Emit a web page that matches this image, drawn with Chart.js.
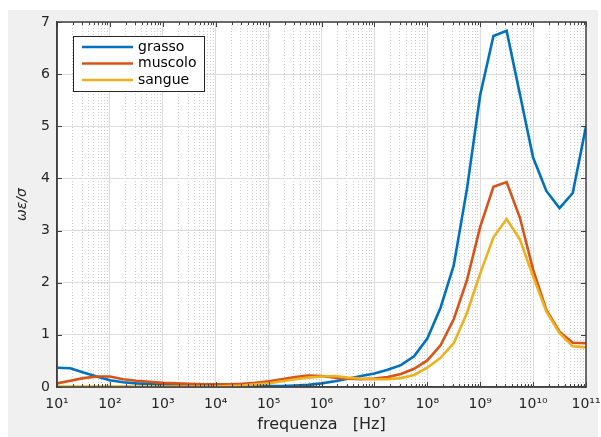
<!DOCTYPE html>
<html>
<head>
<meta charset="utf-8">
<script src="https://cdn.jsdelivr.net/npm/chart.js@4.4.1/dist/chart.umd.min.js"></script>
<style>
  html, body { margin: 0; padding: 0; background: #ffffff; }
</style>
</head>
<body>
<canvas id="chart" width="601" height="437"></canvas>
<script>
// frequencies [Hz], quarter-decade steps from 10 Hz to 100 GHz
const frequenze = [
  1e1, 1.78e1, 3.16e1, 5.62e1,
  1e2, 1.78e2, 3.16e2, 5.62e2,
  1e3, 1.78e3, 3.16e3, 5.62e3,
  1e4, 1.78e4, 3.16e4, 5.62e4,
  1e5, 1.78e5, 3.16e5, 5.62e5,
  1e6, 1.78e6, 3.16e6, 5.62e6,
  1e7, 1.78e7, 3.16e7, 5.62e7,
  1e8, 1.78e8, 3.16e8, 5.62e8,
  1e9, 1.78e9, 3.16e9, 5.62e9,
  1e10, 1.78e10, 3.16e10, 5.62e10,
  1e11
];

// omega*epsilon / sigma
const grasso = [
  0.37, 0.36, 0.28, 0.20,
  0.13, 0.09, 0.07, 0.06,
  0.05, 0.04, 0.04, 0.03,
  0.03, 0.03, 0.02, 0.02,
  0.02, 0.02, 0.03, 0.04,
  0.07, 0.11, 0.16, 0.21,
  0.26, 0.33, 0.42, 0.59,
  0.93, 1.52, 2.33, 3.80,
  5.60, 6.73, 6.83, 5.62,
  4.40, 3.76, 3.43, 3.72,
  5.00
];
const muscolo = [
  0.07, 0.12, 0.17, 0.20,
  0.20, 0.15, 0.12, 0.10,
  0.08, 0.07, 0.06, 0.05,
  0.05, 0.05, 0.06, 0.08,
  0.11, 0.15, 0.19, 0.22,
  0.21, 0.18, 0.16, 0.15,
  0.16, 0.19, 0.25, 0.35,
  0.51, 0.80, 1.30, 2.05,
  3.07, 3.84, 3.93, 3.25,
  2.25, 1.48, 1.06, 0.85,
  0.84
];
const sangue = [
  0.01, 0.01, 0.01, 0.01,
  0.01, 0.01, 0.01, 0.01,
  0.01, 0.01, 0.01, 0.01,
  0.01, 0.02, 0.03, 0.05,
  0.07, 0.11, 0.15, 0.18,
  0.20, 0.21, 0.18, 0.16,
  0.15, 0.15, 0.17, 0.23,
  0.37, 0.56, 0.84, 1.42,
  2.18, 2.87, 3.22, 2.83,
  2.12, 1.45, 1.03, 0.78,
  0.76
];

const seriesNames = ['grasso', 'muscolo', 'sangue'];
const seriesColors = ['#0072BD', '#D95319', '#EDB120'];
const yTicks = [0, 1, 2, 3, 4, 5, 6, 7];

const FONT = 'DejaVu Sans';
const SUP = ['⁰', '¹', '²', '³', '⁴', '⁵', '⁶', '⁷', '⁸', '⁹'];

function superscript(n) {
  return String(n).split('').map(d => SUP[+d]).join('');
}

function isDecade(v) {
  const e = Math.log10(v);
  return Math.abs(e - Math.round(e)) < 1e-9;
}

// tick positions for the log axis: 1..9 x 10^n
function logTicks(scale) {
  let list = [];
  for (let n = 1; n <= 10; n++) {
    for (let m = 1; m <= 9; m++) {
      list.push({value: m * Math.pow(10, n)});
    }
  }
  list.push({value: 1e11});
  scale.ticks = list;
}

function toPoints(ys) {
  return frequenze.map((f, i) => ({x: f, y: ys[i]}));
}

// grey figure + white axes background
const backgroundPlugin = {
  id: 'background',
  beforeDraw(chart) {
    const {ctx, chartArea} = chart;
    ctx.save();
    ctx.fillStyle = '#f0f0f0';
    ctx.fillRect(8, 10, 590, 427);
    ctx.fillStyle = '#ffffff';
    ctx.fillRect(chartArea.left, chartArea.top,
      chartArea.right - chartArea.left, chartArea.bottom - chartArea.top);
    ctx.restore();
  }
};

// box, inward tick marks and boxed legend like matlab
const axesBoxPlugin = {
  id: 'axesBox',
  afterDraw(chart) {
    const {ctx, chartArea} = chart;
    const xs = chart.scales.x;
    const ys = chart.scales.y;
    ctx.save();
    ctx.strokeStyle = '#404040';
    ctx.lineWidth = 1;
    ctx.beginPath();
    for (const t of xs.ticks) {
      const px = Math.round(xs.getPixelForValue(t.value)) + 0.5;
      const len = isDecade(t.value) ? 5 : 3;
      ctx.moveTo(px, chartArea.bottom);
      ctx.lineTo(px, chartArea.bottom - len);
      ctx.moveTo(px, chartArea.top);
      ctx.lineTo(px, chartArea.top + len);
    }
    for (const v of yTicks) {
      const py = Math.round(ys.getPixelForValue(v)) + 0.5;
      ctx.moveTo(chartArea.left, py);
      ctx.lineTo(chartArea.left + 5, py);
      ctx.moveTo(chartArea.right, py);
      ctx.lineTo(chartArea.right - 5, py);
    }
    ctx.stroke();
    ctx.lineWidth = 1.5;
    ctx.strokeRect(chartArea.left, chartArea.top,
      chartArea.right - chartArea.left, chartArea.bottom - chartArea.top);

    // legend
    const lx = chartArea.left + 16;
    const ly = chartArea.top + 14;
    ctx.fillStyle = '#ffffff';
    ctx.fillRect(lx, ly, 131, 55);
    ctx.strokeStyle = '#262626';
    ctx.lineWidth = 1;
    ctx.strokeRect(lx + 0.5, ly + 0.5, 131, 55);
    ctx.font = '14px "' + FONT + '"';
    ctx.textBaseline = 'middle';
    chart.data.datasets.forEach((ds, i) => {
      const y = ly + 11 + i * 16.5;
      ctx.strokeStyle = ds.borderColor;
      ctx.lineWidth = 2.5;
      ctx.beginPath();
      ctx.moveTo(lx + 9, y);
      ctx.lineTo(lx + 60, y);
      ctx.stroke();
      ctx.fillStyle = '#000000';
      ctx.fillText(ds.label, lx + 65, y);
    });
    ctx.restore();
  }
};

function noSidePadding(scale) {
  scale.paddingLeft = 0;
  scale.paddingRight = 0;
}

const ctx = document.getElementById('chart').getContext('2d');
new Chart(ctx, {
  type: 'line',
  data: {
    datasets: [grasso, muscolo, sangue].map((ys, i) => ({
      label: seriesNames[i],
      data: toPoints(ys),
      borderColor: seriesColors[i],
      backgroundColor: seriesColors[i],
      borderWidth: 2.6,
      pointRadius: 0,
      tension: 0,
      fill: false,
      order: 3 - i
    }))
  },
  options: {
    responsive: false,
    animation: false,
    devicePixelRatio: 1,
    layout: {padding: {top: 22, right: 15, left: 0, bottom: 0}},
    plugins: {
      legend: {display: false},
      tooltip: {enabled: false}
    },
    scales: {
      x: {
        type: 'logarithmic',
        min: 10,
        max: 1e11,
        position: 'bottom',
        afterBuildTicks: logTicks,
        afterFit(scale) { scale.height = 50; noSidePadding(scale); },
        ticks: {
          autoSkip: false,
          maxRotation: 0,
          padding: 9,
          color: '#262626',
          font: {family: FONT, size: 14},
          callback(value) {
            return isDecade(value) ? '10' + superscript(Math.round(Math.log10(value))) : '';
          }
        },
        grid: {
          drawTicks: false,
          color(c) {
            return c.tick && isDecade(c.tick.value) ? '#dcdcdc' : 'rgba(0,0,0,0)';
          }
        },
        border: {display: true, color: '#404040', width: 1.5},
        title: {
          display: true,
          text: 'frequenza   [Hz]',
          color: '#262626',
          font: {family: FONT, size: 16},
          padding: {top: 0, bottom: 3}
        }
      },
      xMinor: {
        type: 'logarithmic',
        min: 10,
        max: 1e11,
        position: 'bottom',
        afterBuildTicks: logTicks,
        afterFit(scale) { scale.height = 0; noSidePadding(scale); },
        ticks: {display: false, autoSkip: false},
        grid: {
          drawTicks: false,
          color(c) {
            return c.tick && !isDecade(c.tick.value) ? '#cdcdcd' : 'rgba(0,0,0,0)';
          }
        },
        border: {display: false, dash: [1, 2]}
      },
      y: {
        type: 'linear',
        min: 0,
        max: 7,
        afterFit(scale) { scale.width = 57; },
        ticks: {
          stepSize: 1,
          padding: 7,
          color: '#262626',
          font: {family: FONT, size: 14}
        },
        grid: {drawTicks: false, color: '#dcdcdc'},
        border: {display: true, color: '#404040', width: 1.5},
        title: {
          display: true,
          text: 'ωε/σ',
          color: '#262626',
          font: {family: FONT, size: 14, style: 'italic'},
          padding: {top: 14, bottom: 0}
        }
      }
    }
  },
  plugins: [backgroundPlugin, axesBoxPlugin]
});
</script>
</body>
</html>
